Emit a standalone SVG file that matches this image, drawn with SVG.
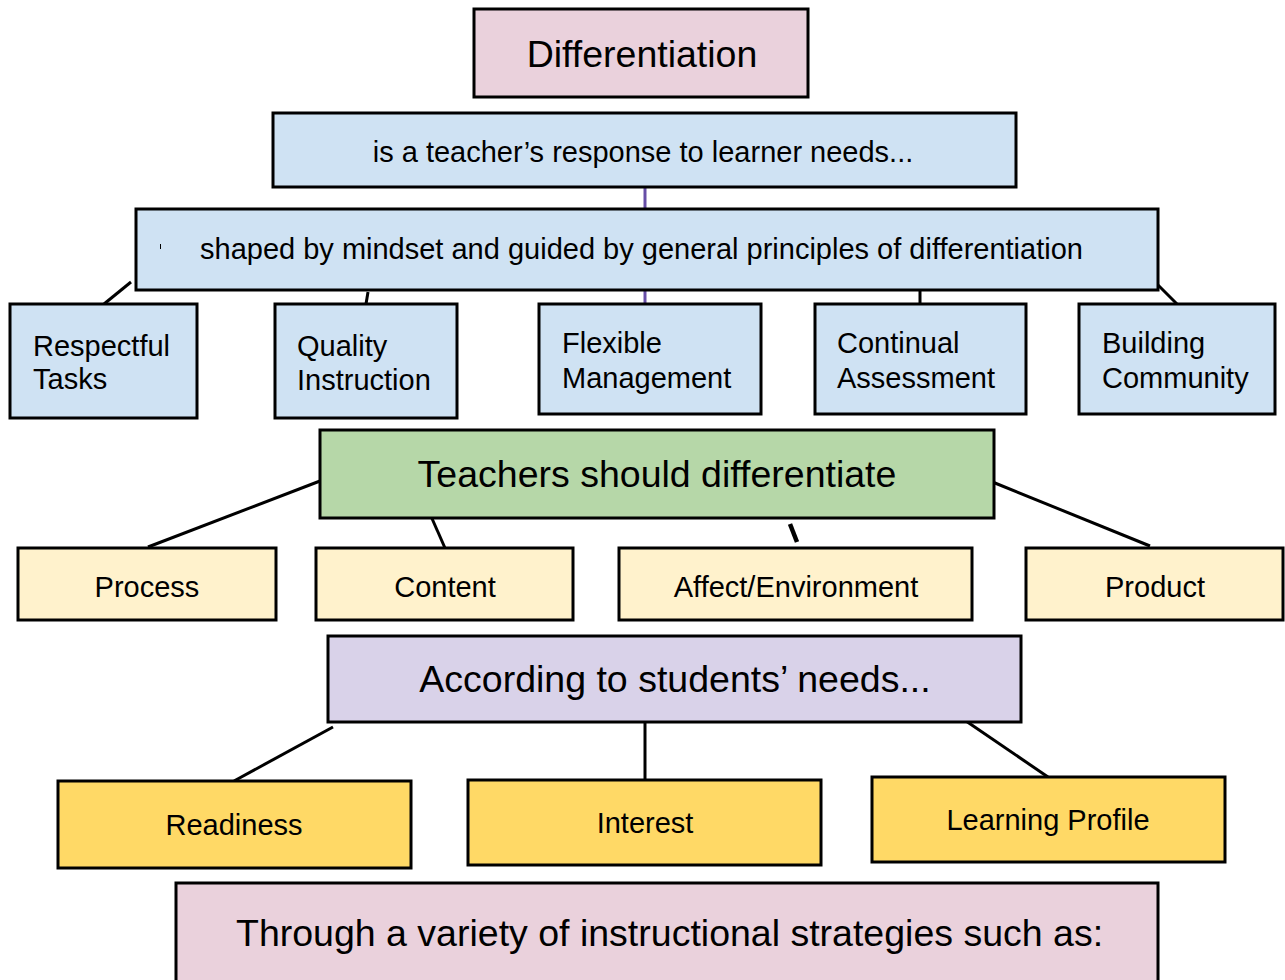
<svg xmlns="http://www.w3.org/2000/svg" width="1285" height="980" viewBox="0 0 1285 980">
<style>
.b{stroke:#000;stroke-width:3}
.pink{fill:#EAD1DC}.blue{fill:#CFE2F3}.green{fill:#B6D7A8}.cream{fill:#FFF2CC}.lav{fill:#D9D2E9}.gold{fill:#FFD966}
text{font-family:"Liberation Sans",Arial,sans-serif;fill:#000}
.big{font-size:37.5px}.mid{font-size:29px}.node{font-size:29px}
.c{text-anchor:middle}
.ln{stroke:#000;stroke-width:3;fill:none}
</style>
<rect width="1285" height="980" fill="#fff"/>
<g id="connectors">
<line x1="645" y1="187" x2="645" y2="210" stroke="#674EA7" stroke-width="3"/>
<line x1="645" y1="290" x2="645" y2="304" stroke="#674EA7" stroke-width="3"/>
<line class="ln" x1="131" y1="282" x2="104" y2="304"/>
<line class="ln" x1="368" y1="292" x2="366" y2="304"/>
<line class="ln" x1="920" y1="276" x2="920" y2="304"/>
<line class="ln" x1="1156" y1="283" x2="1177" y2="304"/>
<line class="ln" x1="320" y1="481" x2="148" y2="547"/>
<line class="ln" x1="430" y1="514" x2="445" y2="548"/>
<line class="ln" x1="790" y1="524" x2="797" y2="542" style="stroke-width:4.5"/>
<line class="ln" x1="990" y1="481" x2="1150" y2="546"/>
<line class="ln" x1="333" y1="727" x2="234" y2="781"/>
<line class="ln" x1="645" y1="722" x2="645" y2="780"/>
<line class="ln" x1="963" y1="719" x2="1048" y2="777"/>
</g>
<g id="differentiation"><rect class="b pink" x="474" y="9" width="334" height="88"/><text class="big c" x="642" y="67">Differentiation</text></g>
<g id="response"><rect class="b blue" x="273" y="113" width="743" height="74"/><text class="mid c" x="643" y="162">is a teacher’s response to learner needs...</text></g>
<g id="shaped"><rect class="b blue" x="136" y="209" width="1022" height="81"/><line x1="160.5" y1="244" x2="160.5" y2="249" stroke="#000" stroke-width="1"/><text class="mid" x="200" y="259">shaped by mindset and guided by general principles of differentiation</text></g>
<g id="respectful"><rect class="b blue" x="10" y="304" width="187" height="114"/><text class="node" x="33" y="356">Respectful</text><text class="node" x="33" y="389">Tasks</text></g>
<g id="quality"><rect class="b blue" x="275" y="304" width="182" height="114"/><text class="node" x="297" y="356">Quality</text><text class="node" x="297" y="390">Instruction</text></g>
<g id="flexible"><rect class="b blue" x="539" y="304" width="222" height="110"/><text class="node" x="562" y="353">Flexible</text><text class="node" x="562" y="388">Management</text></g>
<g id="continual"><rect class="b blue" x="815" y="304" width="211" height="110"/><text class="node" x="837" y="353">Continual</text><text class="node" x="837" y="388">Assessment</text></g>
<g id="building"><rect class="b blue" x="1079" y="304" width="196" height="110"/><text class="node" x="1102" y="353">Building</text><text class="node" x="1102" y="388">Community</text></g>
<g id="teachers"><rect class="b green" x="320" y="430" width="674" height="88"/><text class="big c" x="657" y="487">Teachers should differentiate</text></g>
<g id="process"><rect class="b cream" x="18" y="548" width="258" height="72"/><text class="node c" x="147" y="597">Process</text></g>
<g id="content"><rect class="b cream" x="316" y="548" width="257" height="72"/><text class="node c" x="445" y="597">Content</text></g>
<g id="affect"><rect class="b cream" x="619" y="548" width="353" height="72"/><text class="node c" x="796" y="597">Affect/Environment</text></g>
<g id="product"><rect class="b cream" x="1026" y="548" width="257" height="72"/><text class="node c" x="1155" y="597">Product</text></g>
<g id="according"><rect class="b lav" x="328" y="636" width="693" height="86"/><text class="big c" x="675" y="692">According to students’ needs...</text></g>
<g id="readiness"><rect class="b gold" x="58" y="781" width="353" height="87"/><text class="node c" x="234" y="835">Readiness</text></g>
<g id="interest"><rect class="b gold" x="468" y="780" width="353" height="85"/><text class="node c" x="645" y="833">Interest</text></g>
<g id="learning"><rect class="b gold" x="872" y="777" width="353" height="85"/><text class="node c" x="1048" y="830">Learning Profile</text></g>
<g id="through"><rect class="b pink" x="176" y="883" width="982" height="110"/><text class="big" x="236" y="946">Through a variety of instructional strategies such as:</text></g>
</svg>
